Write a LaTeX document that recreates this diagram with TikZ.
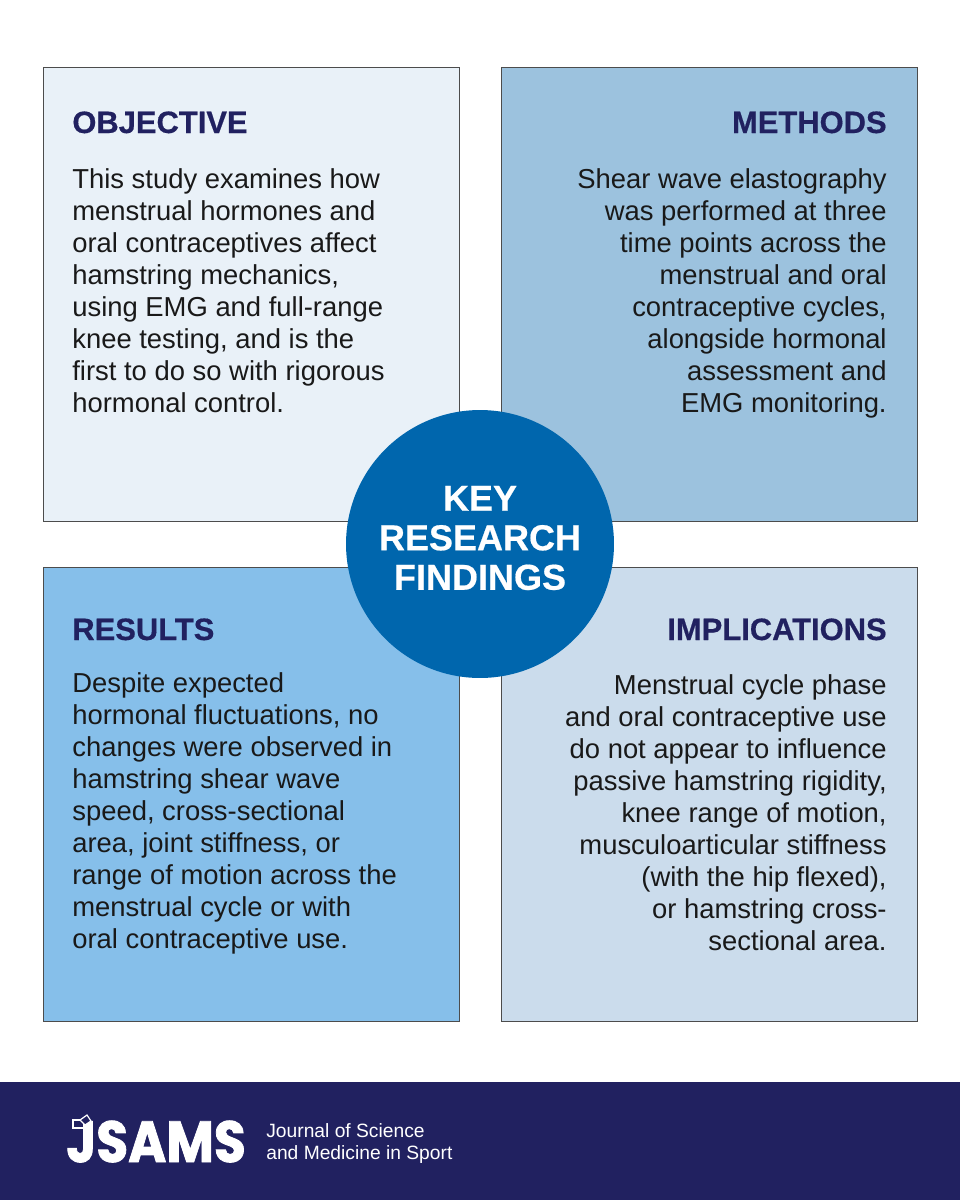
\documentclass[tikz,border=0pt]{standalone}
\usepackage{fontspec}
\setmainfont{Liberation Sans}
\newfontfamily\logofont[BoldFeatures={FakeBold=1.5}]{Poppins}
\newfontfamily\headfont[BoldFeatures={FakeBold=0.5}]{Liberation Sans}
\usepackage{tikz}
\definecolor{navyblue}{HTML}{212160}
\definecolor{circleblue}{HTML}{0066AD}
\definecolor{objfill}{HTML}{E9F1F8}
\definecolor{metfill}{HTML}{9CC2DE}
\definecolor{resfill}{HTML}{86BFEA}
\definecolor{impfill}{HTML}{CBDCEC}
\tikzset{
  panel/.style={draw=black!70, line width=0.5pt, anchor=north west, minimum width=8.32cm, minimum height=9.08cm, inner sep=0pt},
  headleft/.style={anchor=base west, inner sep=0pt, text=navyblue, font=\fontsize{17.6}{20}\headfont\bfseries},
  headright/.style={anchor=base east, inner sep=0pt, text=navyblue, font=\fontsize{17.6}{20}\headfont\bfseries},
  bodyleft/.style={anchor=north west, inner sep=0pt, align=left, text=black!90, font=\fontsize{15.6}{18.2}\selectfont},
  bodyright/.style={anchor=north east, inner sep=0pt, align=right, text=black!90, font=\fontsize{15.6}{18.2}\selectfont}
}
\begin{document}
\begin{tikzpicture}[x=0.02cm, y=-0.02cm]
  \useasboundingbox (0,0) rectangle (960,1200);
  \node[panel, fill=objfill] (objective) at (43,67) {};
  \node[panel, fill=metfill] (methods) at (501,67) {};
  \node[panel, fill=resfill] (results) at (43,567) {};
  \node[panel, fill=impfill] (implications) at (501,567) {};
  \node[circle, fill=circleblue, minimum size=5.36cm, inner sep=0pt] (findings) at (480,544) {};
  \node[inner sep=0pt, align=center, text=white, font=\fontsize{20.5}{22.5}\headfont\bfseries] (findtext) at (480,538) {KEY\\RESEARCH\\FINDINGS};
  \node[headleft] (objhead) at (72,133) {OBJECTIVE};
  \node[headright] (methead) at (887,133) {METHODS};
  \node[headleft] (reshead) at (72,640) {RESULTS};
  \node[headright] (imphead) at (887,640) {IMPLICATIONS};
  \node[bodyleft] (objtext) at (72,168) {This study examines how\\menstrual hormones and\\oral contraceptives affect\\hamstring mechanics,\\using EMG and full-range\\knee testing, and is the\\first to do so with rigorous\\hormonal control.};
  \node[bodyright] (mettext) at (887,168) {Shear wave elastography\\was performed at three\\time points across the\\menstrual and oral\\contraceptive cycles,\\alongside hormonal\\assessment and\\EMG monitoring.};
  \node[bodyleft] (restext) at (72,672) {Despite expected\\hormonal fluctuations, no\\changes were observed in\\hamstring shear wave\\speed, cross-sectional\\area, joint stiffness, or\\range of motion across the\\menstrual cycle or with\\oral contraceptive use.};
  \node[bodyright] (imptext) at (887,674) {Menstrual cycle phase\\and oral contraceptive use\\do not appear to influence\\passive hamstring rigidity,\\knee range of motion,\\musculoarticular stiffness\\(with the hip flexed),\\or hamstring cross-\\sectional area.};
  % footer band
  \fill[navyblue] (0,1082) rectangle (960,1200);
  \node[anchor=base west, inner sep=0pt, text=white, yscale=1.12, font=\fontsize{29.5}{30}\logofont\bfseries] (logo) at (66,1162) {JSAMS};
  \draw[white, line width=0.7pt] (73,1120) rectangle (85,1128);
  \draw[white, line width=0.7pt, fill=navyblue] (80,1120) -- (87,1115) -- (91,1121) -- (85,1125) -- cycle;
  \node[anchor=north west, inner sep=0pt, align=left, text=white, font=\fontsize{10.95}{12.7}\selectfont] (journal) at (266,1123) {Journal of Science\\and Medicine in Sport};
\end{tikzpicture}
\end{document}
